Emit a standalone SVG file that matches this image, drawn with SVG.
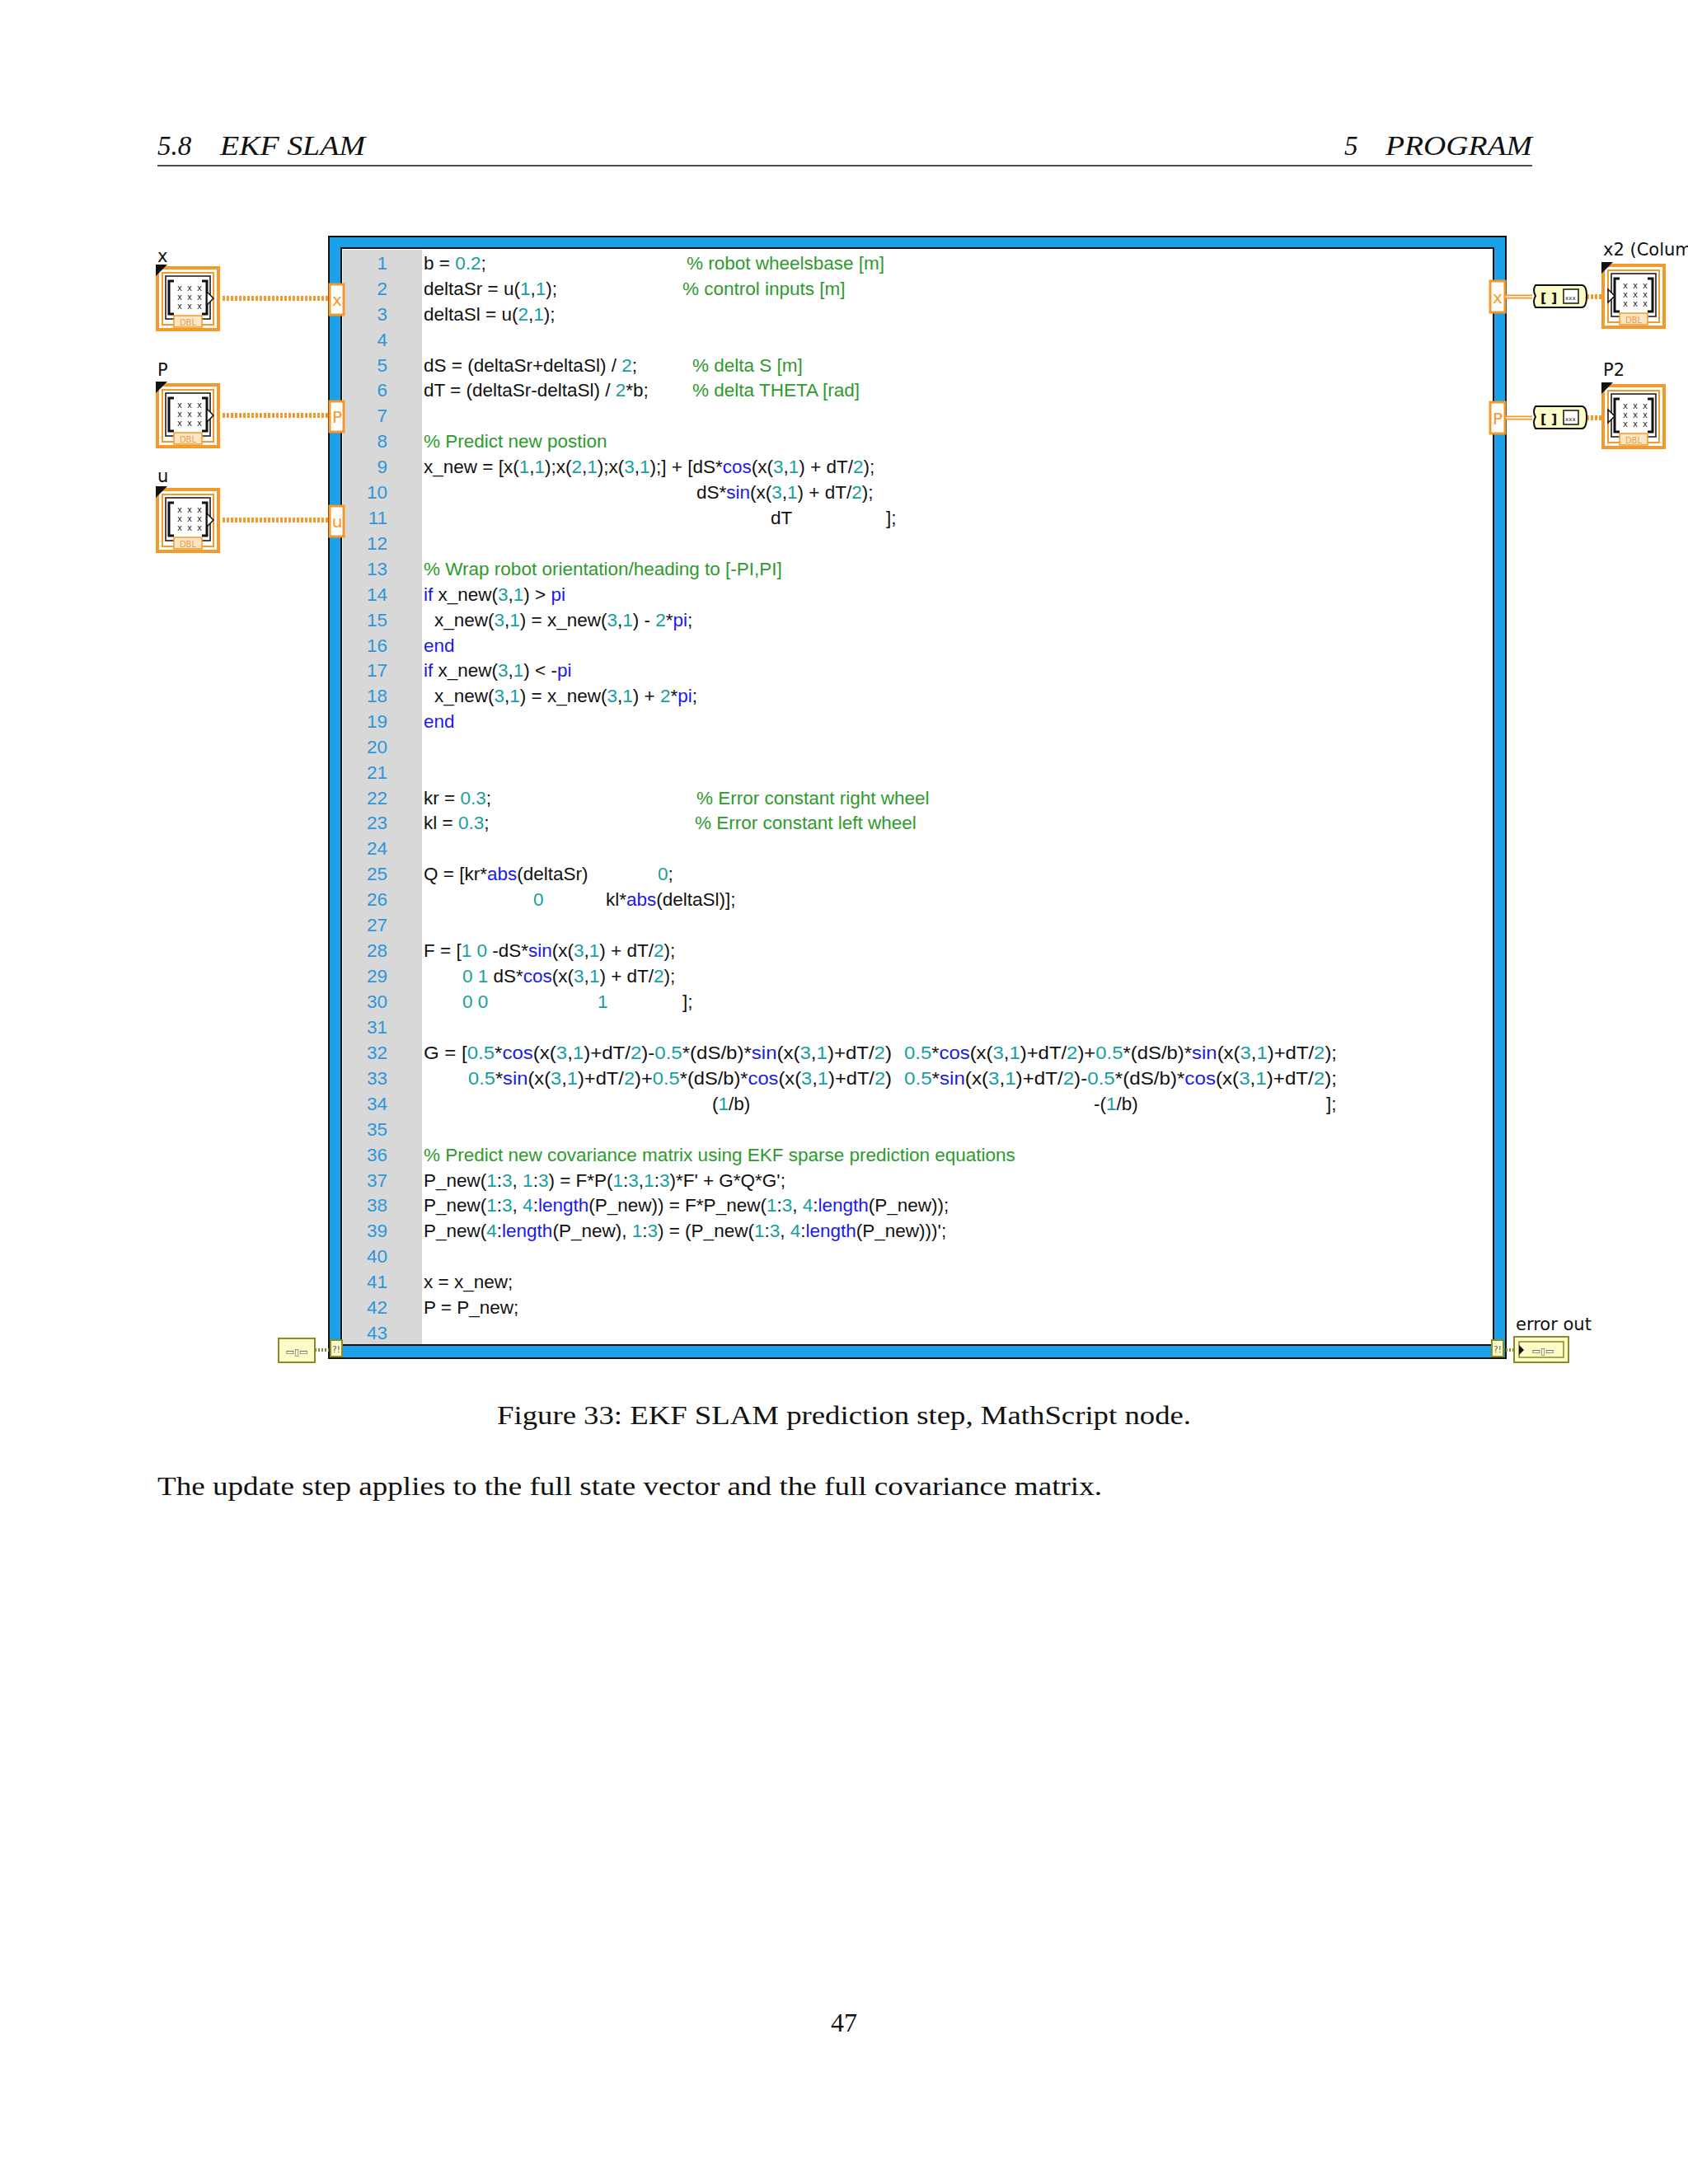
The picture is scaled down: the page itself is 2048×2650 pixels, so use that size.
<svg xmlns="http://www.w3.org/2000/svg" width="2048" height="2650" viewBox="0 0 2048 2650">
<style>
.hd{font-family:"Liberation Serif","DejaVu Serif",serif;font-style:italic;font-size:33px;fill:#111}
.ser{font-family:"Liberation Serif","DejaVu Serif",serif;font-size:32px;fill:#111}
.code{font-family:"Liberation Sans","DejaVu Sans",sans-serif;font-size:22.5px;fill:#111}
.ln{font-family:"Liberation Sans","DejaVu Sans",sans-serif;font-size:22.5px;fill:#2d96dc;text-anchor:end}
.n{fill:#16a0a0}.k{fill:#1a1aee}.c{fill:#2e9a2e}
.lbl{font-family:"DejaVu Sans",sans-serif;font-size:21px;fill:#111}
.term{fill:#fff;stroke:#f39a2b;stroke-width:3}
.tt{font-family:"DejaVu Sans",sans-serif;font-size:20px;fill:#f39a2b;text-anchor:middle}
.wire{stroke:#f39a2b;stroke-width:6;stroke-dasharray:3 2;fill:none}
.wire2{stroke:#f39a2b;stroke-width:5;fill:none}
.wire2i{stroke:#fff;stroke-width:1.5;fill:none}
.xs{font-family:"DejaVu Sans Mono",monospace;font-size:10px;fill:#111}
.err{fill:#fcfcc8;stroke:#8a8a2a;stroke-width:2}
</style>
<defs>
<g id="mat">
<rect x="2" y="4" width="74" height="75" fill="#fff" stroke="#f39a2b" stroke-width="4"/>
<rect x="8" y="10" width="62" height="63" fill="none" stroke="#f39a2b" stroke-width="2"/>
<path d="M12 14 H66 V66 H12 Z" fill="none" stroke="#111" stroke-width="1.5"/>
<path d="M22 20 H16 V60 H22 M56 20 H62 V60 H56" fill="none" stroke="#111" stroke-width="3"/>
<text class="xs" x="26" y="32">x x x</text><text class="xs" x="26" y="43">x x x</text><text class="xs" x="26" y="54">x x x</text>
<rect x="22" y="62" width="34" height="14" fill="#fde6c4" stroke="#f39a2b" stroke-width="1.5"/>
<text x="39" y="74" font-family="DejaVu Sans,sans-serif" font-size="10" fill="#e8a050" text-anchor="middle">DBL</text>
<polygon points="0,0 14,0 0,14" fill="#111"/>
</g>
<g id="ctl"><use href="#mat"/><polygon points="62,33 70,41 62,49" fill="#fff" stroke="#111" stroke-width="1.5"/></g>
<g id="ind"><use href="#mat"/><polygon points="8,33 16,41 8,49" fill="#fff" stroke="#111" stroke-width="1.5"/></g>
<g id="conv">
<path d="M4 0 H60 Q66 0 66 13 Q66 27 60 27 H4 Q0 20 4 13 Q0 6 4 0 Z" fill="#fcfcc8" stroke="#111" stroke-width="2"/>
<text x="10" y="21" font-family="DejaVu Sans,sans-serif" font-weight="bold" font-size="16" fill="#111">[ ]</text>
<rect x="38" y="5" width="18" height="17" fill="#fff" stroke="#111" stroke-width="1.5"/>
<text x="40" y="18" font-family="DejaVu Sans Mono,monospace" font-size="7" fill="#111">xxx</text>
</g>
</defs>

<rect width="2048" height="2650" fill="#fff"/>

<text class="hd" x="191" y="188">5.8</text>
<text class="hd" x="267" y="188" textLength="176" lengthAdjust="spacingAndGlyphs">EKF SLAM</text>
<text class="hd" x="1631" y="188">5</text>
<text class="hd" x="1681" y="188" textLength="178" lengthAdjust="spacingAndGlyphs">PROGRAM</text>
<line x1="191" y1="201" x2="1859" y2="201" stroke="#111" stroke-width="1.5"/>

<g id="mathscript">
<rect x="399" y="287" width="1428" height="1361" fill="#1ba1e8" stroke="#111" stroke-width="2"/>
<rect x="414" y="301" width="1398" height="1331" fill="#fff" stroke="#111" stroke-width="2"/>
<rect x="416" y="303" width="96" height="1328" fill="#d8d8d8"/>
<g class="ln">
<text x="470" y="327">1</text><text x="470" y="358">2</text><text x="470" y="389">3</text><text x="470" y="420">4</text><text x="470" y="451">5</text><text x="470" y="481">6</text><text x="470" y="512">7</text><text x="470" y="543">8</text><text x="470" y="574">9</text><text x="470" y="605">10</text><text x="470" y="636">11</text><text x="470" y="667">12</text><text x="470" y="698">13</text><text x="470" y="729">14</text><text x="470" y="760">15</text><text x="470" y="791">16</text><text x="470" y="821">17</text><text x="470" y="852">18</text><text x="470" y="883">19</text><text x="470" y="914">20</text><text x="470" y="945">21</text><text x="470" y="976">22</text><text x="470" y="1006">23</text><text x="470" y="1037">24</text><text x="470" y="1068">25</text><text x="470" y="1099">26</text><text x="470" y="1130">27</text><text x="470" y="1161">28</text><text x="470" y="1192">29</text><text x="470" y="1223">30</text><text x="470" y="1254">31</text><text x="470" y="1285">32</text><text x="470" y="1316">33</text><text x="470" y="1347">34</text><text x="470" y="1378">35</text><text x="470" y="1409">36</text><text x="470" y="1440">37</text><text x="470" y="1470">38</text><text x="470" y="1501">39</text><text x="470" y="1532">40</text><text x="470" y="1563">41</text><text x="470" y="1594">42</text><text x="470" y="1625">43</text>
</g>
<g class="code">
<text x="514" y="327">b = <tspan class="n">0.2</tspan>;</text>
<text x="833" y="327" class="c">% robot wheelsbase [m]</text>
<text x="514" y="358">deltaSr = u(<tspan class="n">1</tspan>,<tspan class="n">1</tspan>);</text>
<text x="828" y="358" class="c">% control inputs [m]</text>
<text x="514" y="389">deltaSl = u(<tspan class="n">2</tspan>,<tspan class="n">1</tspan>);</text>
<text x="514" y="451">dS = (deltaSr+deltaSl) / <tspan class="n">2</tspan>;</text>
<text x="840" y="451" class="c">% delta S [m]</text>
<text x="514" y="481">dT = (deltaSr-deltaSl) / <tspan class="n">2</tspan>*b;</text>
<text x="840" y="481" class="c">% delta THETA [rad]</text>
<text x="514" y="543" class="c">% Predict new postion</text>
<text x="514" y="574">x_new = [x(<tspan class="n">1</tspan>,<tspan class="n">1</tspan>);x(<tspan class="n">2</tspan>,<tspan class="n">1</tspan>);x(<tspan class="n">3</tspan>,<tspan class="n">1</tspan>);] + [dS*<tspan class="k">cos</tspan>(x(<tspan class="n">3</tspan>,<tspan class="n">1</tspan>) + dT/<tspan class="n">2</tspan>);</text>
<text x="845" y="605">dS*<tspan class="k">sin</tspan>(x(<tspan class="n">3</tspan>,<tspan class="n">1</tspan>) + dT/<tspan class="n">2</tspan>);</text>
<text x="935" y="636">dT</text><text x="1075" y="636">];</text>
<text x="514" y="698" class="c">% Wrap robot orientation/heading to [-PI,PI]</text>
<text x="514" y="729"><tspan class="k">if</tspan> x_new(<tspan class="n">3</tspan>,<tspan class="n">1</tspan>) &gt; <tspan class="k">pi</tspan></text>
<text x="527" y="760">x_new(<tspan class="n">3</tspan>,<tspan class="n">1</tspan>) = x_new(<tspan class="n">3</tspan>,<tspan class="n">1</tspan>) - <tspan class="n">2</tspan>*<tspan class="k">pi</tspan>;</text>
<text x="514" y="791" class="k">end</text>
<text x="514" y="821"><tspan class="k">if</tspan> x_new(<tspan class="n">3</tspan>,<tspan class="n">1</tspan>) &lt; -<tspan class="k">pi</tspan></text>
<text x="527" y="852">x_new(<tspan class="n">3</tspan>,<tspan class="n">1</tspan>) = x_new(<tspan class="n">3</tspan>,<tspan class="n">1</tspan>) + <tspan class="n">2</tspan>*<tspan class="k">pi</tspan>;</text>
<text x="514" y="883" class="k">end</text>
<text x="514" y="976">kr = <tspan class="n">0.3</tspan>;</text>
<text x="845" y="976" class="c">% Error constant right wheel</text>
<text x="514" y="1006">kl = <tspan class="n">0.3</tspan>;</text>
<text x="843" y="1006" class="c">% Error constant left wheel</text>
<text x="514" y="1068">Q = [kr*<tspan class="k">abs</tspan>(deltaSr)</text>
<text x="798" y="1068"><tspan class="n">0</tspan>;</text>
<text x="647" y="1099" class="n">0</text>
<text x="735" y="1099">kl*<tspan class="k">abs</tspan>(deltaSl)];</text>
<text x="514" y="1161">F = [<tspan class="n">1</tspan> <tspan class="n">0</tspan> -dS*<tspan class="k">sin</tspan>(x(<tspan class="n">3</tspan>,<tspan class="n">1</tspan>) + dT/<tspan class="n">2</tspan>);</text>
<text x="561" y="1192"><tspan class="n">0</tspan> <tspan class="n">1</tspan> dS*<tspan class="k">cos</tspan>(x(<tspan class="n">3</tspan>,<tspan class="n">1</tspan>) + dT/<tspan class="n">2</tspan>);</text>
<text x="561" y="1223" class="n">0 0</text>
<text x="725" y="1223" class="n">1</text>
<text x="828" y="1223">];</text>
<text x="514" y="1285" textLength="568" lengthAdjust="spacingAndGlyphs">G = [<tspan class="n">0.5</tspan>*<tspan class="k">cos</tspan>(x(<tspan class="n">3</tspan>,<tspan class="n">1</tspan>)+dT/<tspan class="n">2</tspan>)-<tspan class="n">0.5</tspan>*(dS/b)*<tspan class="k">sin</tspan>(x(<tspan class="n">3</tspan>,<tspan class="n">1</tspan>)+dT/<tspan class="n">2</tspan>)</text>
<text x="1097" y="1285" textLength="525" lengthAdjust="spacingAndGlyphs"><tspan class="n">0.5</tspan>*<tspan class="k">cos</tspan>(x(<tspan class="n">3</tspan>,<tspan class="n">1</tspan>)+dT/<tspan class="n">2</tspan>)+<tspan class="n">0.5</tspan>*(dS/b)*<tspan class="k">sin</tspan>(x(<tspan class="n">3</tspan>,<tspan class="n">1</tspan>)+dT/<tspan class="n">2</tspan>);</text>
<text x="568" y="1316" textLength="514" lengthAdjust="spacingAndGlyphs"><tspan class="n">0.5</tspan>*<tspan class="k">sin</tspan>(x(<tspan class="n">3</tspan>,<tspan class="n">1</tspan>)+dT/<tspan class="n">2</tspan>)+<tspan class="n">0.5</tspan>*(dS/b)*<tspan class="k">cos</tspan>(x(<tspan class="n">3</tspan>,<tspan class="n">1</tspan>)+dT/<tspan class="n">2</tspan>)</text>
<text x="1097" y="1316" textLength="525" lengthAdjust="spacingAndGlyphs"><tspan class="n">0.5</tspan>*<tspan class="k">sin</tspan>(x(<tspan class="n">3</tspan>,<tspan class="n">1</tspan>)+dT/<tspan class="n">2</tspan>)-<tspan class="n">0.5</tspan>*(dS/b)*<tspan class="k">cos</tspan>(x(<tspan class="n">3</tspan>,<tspan class="n">1</tspan>)+dT/<tspan class="n">2</tspan>);</text>
<text x="864" y="1347">(<tspan class="n">1</tspan>/b)</text>
<text x="1327" y="1347">-(<tspan class="n">1</tspan>/b)</text>
<text x="1609" y="1347">];</text>
<text x="514" y="1409" class="c">% Predict new covariance matrix using EKF sparse prediction equations</text>
<text x="514" y="1440">P_new(<tspan class="n">1</tspan>:<tspan class="n">3</tspan>, <tspan class="n">1</tspan>:<tspan class="n">3</tspan>) = F*P(<tspan class="n">1</tspan>:<tspan class="n">3</tspan>,<tspan class="n">1</tspan>:<tspan class="n">3</tspan>)*F' + G*Q*G';</text>
<text x="514" y="1470">P_new(<tspan class="n">1</tspan>:<tspan class="n">3</tspan>, <tspan class="n">4</tspan>:<tspan class="k">length</tspan>(P_new)) = F*P_new(<tspan class="n">1</tspan>:<tspan class="n">3</tspan>, <tspan class="n">4</tspan>:<tspan class="k">length</tspan>(P_new));</text>
<text x="514" y="1501">P_new(<tspan class="n">4</tspan>:<tspan class="k">length</tspan>(P_new), <tspan class="n">1</tspan>:<tspan class="n">3</tspan>) = (P_new(<tspan class="n">1</tspan>:<tspan class="n">3</tspan>, <tspan class="n">4</tspan>:<tspan class="k">length</tspan>(P_new)))';</text>
<text x="514" y="1563">x = x_new;</text>
<text x="514" y="1594">P = P_new;</text>
</g>
</g>

<g id="connectors">
<line class="wire" x1="270" y1="362" x2="399" y2="362"/>
<line class="wire" x1="270" y1="504" x2="399" y2="504"/>
<line class="wire" x1="270" y1="631" x2="399" y2="631"/>
<line class="wire2" x1="1827" y1="360" x2="1859" y2="360"/><line class="wire2i" x1="1827" y1="360" x2="1859" y2="360"/>
<line class="wire2" x1="1827" y1="507" x2="1859" y2="507"/><line class="wire2i" x1="1827" y1="507" x2="1859" y2="507"/>
<line class="wire" x1="1925" y1="360" x2="1945" y2="360"/>
<line class="wire" x1="1925" y1="507" x2="1945" y2="507"/>
<line x1="382" y1="1638" x2="399" y2="1638" stroke="#8a8a2a" stroke-width="4" stroke-dasharray="2 2"/>
<line x1="1827" y1="1638" x2="1837" y2="1638" stroke="#8a8a2a" stroke-width="4" stroke-dasharray="2 2"/>
</g>

<g id="ctl-x"><text class="lbl" x="191" y="318">x</text><use href="#ctl" x="189" y="321"/></g>
<g id="ctl-P"><text class="lbl" x="191" y="456">P</text><use href="#ctl" x="189" y="463"/></g>
<g id="ctl-u"><text class="lbl" x="191" y="585">u</text><use href="#ctl" x="189" y="590"/></g>

<g id="term-in">
<rect class="term" x="400" y="345" width="17" height="37"/><text class="tt" x="409" y="371">x</text>
<rect class="term" x="400" y="487" width="17" height="37"/><text class="tt" x="409" y="513">P</text>
<rect class="term" x="400" y="614" width="17" height="37"/><text class="tt" x="409" y="640">u</text>
</g>
<g id="term-out">
<rect class="term" x="1808" y="341" width="18" height="38"/><text class="tt" x="1817" y="368">x</text>
<rect class="term" x="1808" y="488" width="18" height="38"/><text class="tt" x="1817" y="515">P</text>
</g>
<g id="conv-x"><use href="#conv" x="1859" y="346"/></g>
<g id="conv-P"><use href="#conv" x="1859" y="493"/></g>
<g id="ind-x2"><text class="lbl" x="1945" y="310">x2 (Colum</text><use href="#ind" x="1943" y="318"/></g>
<g id="ind-P2"><text class="lbl" x="1945" y="456">P2</text><use href="#ind" x="1943" y="464"/></g>

<g id="error-in">
<rect class="err" x="338" y="1624" width="44" height="29"/>
<text x="360" y="1644" font-family="DejaVu Sans,sans-serif" font-size="11" fill="#555" text-anchor="middle">▭▯▭</text>
<rect class="err" x="401" y="1626" width="14" height="20"/>
<text x="408" y="1641" font-family="DejaVu Sans,sans-serif" font-size="10" fill="#555" text-anchor="middle">?!</text>
</g>
<g id="error-out">
<rect class="err" x="1810" y="1626" width="14" height="20"/>
<text x="1817" y="1641" font-family="DejaVu Sans,sans-serif" font-size="10" fill="#555" text-anchor="middle">?!</text>
<text class="lbl" x="1839" y="1614">error out</text>
<rect class="err" x="1837" y="1622" width="66" height="31"/>
<rect x="1843" y="1628" width="54" height="19" fill="none" stroke="#8a8a2a" stroke-width="1.5"/>
<polygon points="1843,1632 1849,1638 1843,1644" fill="#111"/>
<text x="1872" y="1643" font-family="DejaVu Sans,sans-serif" font-size="11" fill="#555" text-anchor="middle">▭▯▭</text>
</g>

<text class="ser" x="603" y="1728" textLength="842" lengthAdjust="spacingAndGlyphs">Figure 33: EKF SLAM prediction step, MathScript node.</text>
<text class="ser" x="191" y="1814" textLength="1146" lengthAdjust="spacingAndGlyphs">The update step applies to the full state vector and the full covariance matrix.</text>
<text class="ser" x="1024" y="2465" text-anchor="middle">47</text>
</svg>
